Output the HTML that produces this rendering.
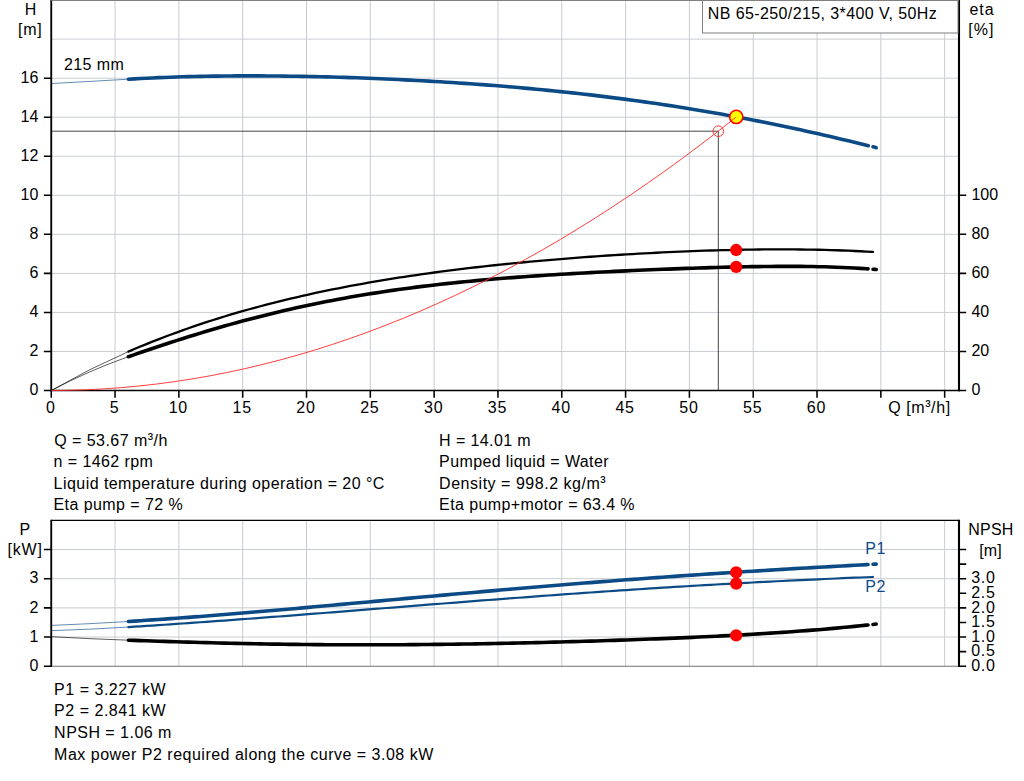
<!DOCTYPE html>
<html><head><meta charset="utf-8"><title>Pump curve</title>
<style>html,body{margin:0;padding:0;background:#fff;overflow:hidden}svg{display:block}text{font-family:"Liberation Sans",sans-serif}</style></head>
<body>
<svg width="1024" height="781" viewBox="0 0 1024 781">
<rect width="1024" height="781" fill="#fff"/>
<path d="M115.06,0V390.50M178.88,0V390.50M242.69,0V390.50M306.51,0V390.50M370.32,0V390.50M434.14,0V390.50M497.95,0V390.50M561.77,0V390.50M625.59,0V390.50M689.40,0V390.50M753.22,0V390.50M817.03,0V390.50M880.85,0V390.50M944.66,0V390.50M51.25,351.46H959.00M51.25,312.42H959.00M51.25,273.38H959.00M51.25,234.34H959.00M51.25,195.30H959.00M51.25,156.26H959.00M51.25,117.22H959.00M51.25,78.18H959.00M51.25,39.14H959.00" stroke="#c9cdd1" stroke-width="1" fill="none"/>
<path d="M115.06,520.4V666.2M178.88,520.4V666.2M242.69,520.4V666.2M306.51,520.4V666.2M370.32,520.4V666.2M434.14,520.4V666.2M497.95,520.4V666.2M561.77,520.4V666.2M625.59,520.4V666.2M689.40,520.4V666.2M753.22,520.4V666.2M817.03,520.4V666.2M880.85,520.4V666.2M944.66,520.4V666.2M51.25,637.03H959.00M51.25,607.86H959.00M51.25,578.69H959.00M51.25,549.52H959.00" stroke="#c9cdd1" stroke-width="1" fill="none"/>
<path d="M51.25,131.2H718.3V390.5" stroke="#454545" stroke-width="1" fill="none"/>
<path d="M51.80,83.50Q90.10,81.49 128.40,79.19" stroke="#0b4a85" stroke-width="0.8" fill="none" opacity="0.8"/>
<path d="M128.40,79.19 L134.40,78.84 L140.40,78.51 L146.40,78.21 L152.40,77.93 L158.40,77.67 L164.40,77.43 L170.40,77.20 L176.40,77.00 L182.40,76.82 L188.40,76.65 L194.40,76.51 L200.40,76.38 L206.40,76.26 L212.40,76.16 L218.40,76.08 L224.40,76.01 L230.40,75.96 L236.40,75.92 L242.40,75.90 L248.40,75.89 L254.40,75.89 L260.40,75.91 L266.40,75.94 L272.40,75.98 L278.40,76.04 L284.40,76.11 L290.40,76.19 L296.40,76.28 L302.40,76.38 L308.40,76.50 L314.40,76.62 L320.40,76.76 L326.40,76.91 L332.40,77.07 L338.40,77.24 L344.40,77.42 L350.40,77.61 L356.40,77.82 L362.40,78.03 L368.40,78.26 L374.40,78.49 L380.40,78.74 L386.40,79.00 L392.40,79.27 L398.40,79.55 L404.40,79.84 L410.40,80.14 L416.40,80.45 L422.40,80.78 L428.40,81.11 L434.40,81.46 L440.40,81.82 L446.40,82.19 L452.40,82.57 L458.40,82.96 L464.40,83.37 L470.40,83.79 L476.40,84.22 L482.40,84.66 L488.40,85.11 L494.40,85.58 L500.40,86.06 L506.40,86.55 L512.40,87.06 L518.40,87.58 L524.40,88.11 L530.40,88.66 L536.40,89.22 L542.40,89.79 L548.40,90.38 L554.40,90.99 L560.40,91.60 L566.40,92.23 L572.40,92.88 L578.40,93.54 L584.40,94.22 L590.40,94.91 L596.40,95.62 L602.40,96.35 L608.40,97.09 L614.40,97.84 L620.40,98.61 L626.40,99.40 L632.40,100.21 L638.40,101.03 L644.40,101.87 L650.40,102.72 L656.40,103.59 L662.40,104.48 L668.40,105.39 L674.40,106.31 L680.40,107.26 L686.40,108.22 L692.40,109.19 L698.40,110.19 L704.40,111.20 L710.40,112.23 L716.40,113.28 L722.40,114.34 L728.40,115.43 L734.40,116.53 L740.40,117.65 L746.40,118.79 L752.40,119.95 L758.40,121.12 L764.40,122.31 L770.40,123.52 L776.40,124.75 L782.40,126.00 L788.40,127.26 L794.40,128.54 L800.40,129.84 L806.40,131.16 L812.40,132.49 L818.40,133.84 L824.40,135.21 L830.40,136.59 L836.40,137.99 L842.40,139.41 L848.40,140.84 L854.40,142.29 L860.40,143.75 L866.40,145.23 L868.30,145.70" stroke="#0b4a85" stroke-width="3.6" fill="none" stroke-linecap="round"/>
<path d="M873.00,146.87 L875.00,147.37 L876.20,147.68" stroke="#0b4a85" stroke-width="3.6" fill="none" stroke-linecap="round"/>
<path d="M51.30,390.50Q89.85,368.24 128.40,351.61" stroke="#000" stroke-width="0.8" fill="none" opacity="0.8"/>
<path d="M128.40,351.61 L134.40,349.05 L140.40,346.54 L146.40,344.08 L152.40,341.68 L158.40,339.32 L164.40,337.02 L170.40,334.76 L176.40,332.55 L182.40,330.39 L188.40,328.28 L194.40,326.21 L200.40,324.18 L206.40,322.20 L212.40,320.27 L218.40,318.37 L224.40,316.52 L230.40,314.71 L236.40,312.94 L242.40,311.20 L248.40,309.51 L254.40,307.86 L260.40,306.24 L266.40,304.66 L272.40,303.11 L278.40,301.60 L284.40,300.12 L290.40,298.68 L296.40,297.27 L302.40,295.90 L308.40,294.55 L314.40,293.24 L320.40,291.95 L326.40,290.70 L332.40,289.47 L338.40,288.27 L344.40,287.10 L350.40,285.96 L356.40,284.85 L362.40,283.76 L368.40,282.69 L374.40,281.65 L380.40,280.64 L386.40,279.65 L392.40,278.68 L398.40,277.73 L404.40,276.81 L410.40,275.90 L416.40,275.02 L422.40,274.16 L428.40,273.32 L434.40,272.50 L440.40,271.69 L446.40,270.91 L452.40,270.14 L458.40,269.40 L464.40,268.67 L470.40,267.95 L476.40,267.26 L482.40,266.58 L488.40,265.91 L494.40,265.26 L500.40,264.63 L506.40,264.01 L512.40,263.40 L518.40,262.81 L524.40,262.24 L530.40,261.67 L536.40,261.12 L542.40,260.59 L548.40,260.06 L554.40,259.55 L560.40,259.06 L566.40,258.57 L572.40,258.10 L578.40,257.64 L584.40,257.19 L590.40,256.75 L596.40,256.33 L602.40,255.92 L608.40,255.51 L614.40,255.13 L620.40,254.75 L626.40,254.38 L632.40,254.03 L638.40,253.68 L644.40,253.35 L650.40,253.03 L656.40,252.73 L662.40,252.43 L668.40,252.15 L674.40,251.88 L680.40,251.62 L686.40,251.37 L692.40,251.14 L698.40,250.92 L704.40,250.71 L710.40,250.52 L716.40,250.34 L722.40,250.18 L728.40,250.03 L734.40,249.89 L740.40,249.77 L746.40,249.66 L752.40,249.57 L758.40,249.50 L764.40,249.44 L770.40,249.40 L776.40,249.38 L782.40,249.38 L788.40,249.39 L794.40,249.43 L800.40,249.48 L806.40,249.56 L812.40,249.65 L818.40,249.77 L824.40,249.91 L830.40,250.08 L836.40,250.26 L842.40,250.48 L848.40,250.71 L854.40,250.98 L860.40,251.27 L866.40,251.58 L872.40,251.93 L873.00,251.97" stroke="#000" stroke-width="2.3" fill="none" stroke-linecap="round"/>
<path d="M51.30,390.50Q89.85,370.07 128.40,356.69" stroke="#000" stroke-width="0.8" fill="none" opacity="0.8"/>
<path d="M128.40,356.69 L134.40,354.61 L140.40,352.56 L146.40,350.51 L152.40,348.49 L158.40,346.49 L164.40,344.51 L170.40,342.55 L176.40,340.62 L182.40,338.71 L188.40,336.82 L194.40,334.96 L200.40,333.13 L206.40,331.32 L212.40,329.55 L218.40,327.80 L224.40,326.08 L230.40,324.39 L236.40,322.73 L242.40,321.10 L248.40,319.50 L254.40,317.93 L260.40,316.39 L266.40,314.89 L272.40,313.42 L278.40,311.97 L284.40,310.56 L290.40,309.18 L296.40,307.84 L302.40,306.52 L308.40,305.24 L314.40,303.98 L320.40,302.76 L326.40,301.57 L332.40,300.41 L338.40,299.28 L344.40,298.18 L350.40,297.10 L356.40,296.06 L362.40,295.05 L368.40,294.06 L374.40,293.11 L380.40,292.18 L386.40,291.28 L392.40,290.40 L398.40,289.55 L404.40,288.73 L410.40,287.93 L416.40,287.15 L422.40,286.40 L428.40,285.68 L434.40,284.97 L440.40,284.29 L446.40,283.63 L452.40,282.99 L458.40,282.36 L464.40,281.76 L470.40,281.18 L476.40,280.62 L482.40,280.07 L488.40,279.54 L494.40,279.03 L500.40,278.54 L506.40,278.05 L512.40,277.59 L518.40,277.14 L524.40,276.70 L530.40,276.27 L536.40,275.86 L542.40,275.46 L548.40,275.07 L554.40,274.69 L560.40,274.32 L566.40,273.96 L572.40,273.61 L578.40,273.27 L584.40,272.94 L590.40,272.62 L596.40,272.31 L602.40,272.00 L608.40,271.70 L614.40,271.41 L620.40,271.12 L626.40,270.84 L632.40,270.57 L638.40,270.31 L644.40,270.05 L650.40,269.80 L656.40,269.55 L662.40,269.31 L668.40,269.08 L674.40,268.85 L680.40,268.63 L686.40,268.42 L692.40,268.22 L698.40,268.02 L704.40,267.83 L710.40,267.65 L716.40,267.48 L722.40,267.32 L728.40,267.16 L734.40,267.02 L740.40,266.89 L746.40,266.78 L752.40,266.67 L758.40,266.58 L764.40,266.50 L770.40,266.44 L776.40,266.40 L782.40,266.38 L788.40,266.37 L794.40,266.39 L800.40,266.42 L806.40,266.48 L812.40,266.57 L818.40,266.68 L824.40,266.82 L830.40,266.99 L836.40,267.19 L842.40,267.43 L848.40,267.70 L854.40,268.01 L860.40,268.36 L866.40,268.75 L868.00,268.86" stroke="#000" stroke-width="3.6" fill="none" stroke-linecap="round"/>
<path d="M873.00,269.23 L875.00,269.39 L876.20,269.49" stroke="#000" stroke-width="3.6" fill="none" stroke-linecap="round"/>
<path d="M51.80,625.40Q90.10,623.86 128.40,621.48" stroke="#0b4a85" stroke-width="0.8" fill="none" opacity="0.8"/>
<path d="M128.40,621.48 L134.40,621.10 L140.40,620.72 L146.40,620.32 L152.40,619.92 L158.40,619.51 L164.40,619.09 L170.40,618.67 L176.40,618.23 L182.40,617.79 L188.40,617.35 L194.40,616.89 L200.40,616.43 L206.40,615.97 L212.40,615.50 L218.40,615.02 L224.40,614.54 L230.40,614.05 L236.40,613.56 L242.40,613.07 L248.40,612.56 L254.40,612.06 L260.40,611.55 L266.40,611.04 L272.40,610.52 L278.40,610.00 L284.40,609.48 L290.40,608.95 L296.40,608.42 L302.40,607.89 L308.40,607.36 L314.40,606.82 L320.40,606.29 L326.40,605.75 L332.40,605.20 L338.40,604.66 L344.40,604.12 L350.40,603.57 L356.40,603.03 L362.40,602.48 L368.40,601.93 L374.40,601.39 L380.40,600.84 L386.40,600.29 L392.40,599.74 L398.40,599.20 L404.40,598.65 L410.40,598.10 L416.40,597.56 L422.40,597.01 L428.40,596.47 L434.40,595.92 L440.40,595.38 L446.40,594.84 L452.40,594.30 L458.40,593.77 L464.40,593.23 L470.40,592.70 L476.40,592.17 L482.40,591.64 L488.40,591.11 L494.40,590.59 L500.40,590.06 L506.40,589.54 L512.40,589.03 L518.40,588.51 L524.40,588.00 L530.40,587.49 L536.40,586.99 L542.40,586.49 L548.40,585.99 L554.40,585.49 L560.40,585.00 L566.40,584.51 L572.40,584.02 L578.40,583.54 L584.40,583.06 L590.40,582.59 L596.40,582.12 L602.40,581.65 L608.40,581.19 L614.40,580.72 L620.40,580.27 L626.40,579.82 L632.40,579.37 L638.40,578.92 L644.40,578.48 L650.40,578.04 L656.40,577.61 L662.40,577.18 L668.40,576.76 L674.40,576.33 L680.40,575.92 L686.40,575.50 L692.40,575.09 L698.40,574.69 L704.40,574.28 L710.40,573.89 L716.40,573.49 L722.40,573.10 L728.40,572.71 L734.40,572.33 L740.40,571.95 L746.40,571.57 L752.40,571.20 L758.40,570.83 L764.40,570.46 L770.40,570.10 L776.40,569.74 L782.40,569.38 L788.40,569.02 L794.40,568.67 L800.40,568.32 L806.40,567.98 L812.40,567.63 L818.40,567.29 L824.40,566.95 L830.40,566.61 L836.40,566.28 L842.40,565.94 L848.40,565.61 L854.40,565.28 L860.40,564.95 L866.40,564.63 L868.00,564.54" stroke="#0b4a85" stroke-width="3.6" fill="none" stroke-linecap="round"/>
<path d="M873.00,564.27 L875.00,564.16 L876.20,564.09" stroke="#0b4a85" stroke-width="3.6" fill="none" stroke-linecap="round"/>
<path d="M51.80,630.60Q90.10,629.48 128.40,627.08" stroke="#0b4a85" stroke-width="0.8" fill="none" opacity="0.8"/>
<path d="M128.40,627.08 L134.40,626.70 L140.40,626.31 L146.40,625.93 L152.40,625.53 L158.40,625.14 L164.40,624.74 L170.40,624.33 L176.40,623.92 L182.40,623.51 L188.40,623.10 L194.40,622.68 L200.40,622.25 L206.40,621.83 L212.40,621.40 L218.40,620.97 L224.40,620.53 L230.40,620.09 L236.40,619.65 L242.40,619.21 L248.40,618.76 L254.40,618.31 L260.40,617.86 L266.40,617.41 L272.40,616.95 L278.40,616.49 L284.40,616.03 L290.40,615.57 L296.40,615.11 L302.40,614.64 L308.40,614.17 L314.40,613.71 L320.40,613.24 L326.40,612.77 L332.40,612.29 L338.40,611.82 L344.40,611.35 L350.40,610.87 L356.40,610.40 L362.40,609.92 L368.40,609.45 L374.40,608.97 L380.40,608.49 L386.40,608.02 L392.40,607.54 L398.40,607.07 L404.40,606.59 L410.40,606.11 L416.40,605.64 L422.40,605.16 L428.40,604.69 L434.40,604.22 L440.40,603.74 L446.40,603.27 L452.40,602.80 L458.40,602.33 L464.40,601.86 L470.40,601.40 L476.40,600.93 L482.40,600.47 L488.40,600.01 L494.40,599.55 L500.40,599.09 L506.40,598.63 L512.40,598.18 L518.40,597.73 L524.40,597.28 L530.40,596.83 L536.40,596.38 L542.40,595.94 L548.40,595.50 L554.40,595.06 L560.40,594.63 L566.40,594.19 L572.40,593.76 L578.40,593.34 L584.40,592.91 L590.40,592.49 L596.40,592.08 L602.40,591.66 L608.40,591.25 L614.40,590.84 L620.40,590.44 L626.40,590.04 L632.40,589.64 L638.40,589.25 L644.40,588.86 L650.40,588.47 L656.40,588.09 L662.40,587.71 L668.40,587.34 L674.40,586.96 L680.40,586.60 L686.40,586.23 L692.40,585.88 L698.40,585.52 L704.40,585.17 L710.40,584.82 L716.40,584.48 L722.40,584.14 L728.40,583.80 L734.40,583.47 L740.40,583.15 L746.40,582.82 L752.40,582.51 L758.40,582.19 L764.40,581.88 L770.40,581.58 L776.40,581.27 L782.40,580.98 L788.40,580.68 L794.40,580.39 L800.40,580.11 L806.40,579.83 L812.40,579.55 L818.40,579.28 L824.40,579.01 L830.40,578.74 L836.40,578.48 L842.40,578.22 L848.40,577.97 L854.40,577.72 L860.40,577.48 L866.40,577.23 L872.40,577.00 L873.00,576.97" stroke="#0b4a85" stroke-width="2.2" fill="none" stroke-linecap="round"/>
<path d="M51.80,636.70Q90.10,638.88 128.40,640.20" stroke="#000" stroke-width="0.8" fill="none" opacity="0.8"/>
<path d="M128.40,640.20 L134.40,640.40 L140.40,640.61 L146.40,640.81 L152.40,641.01 L158.40,641.21 L164.40,641.40 L170.40,641.59 L176.40,641.78 L182.40,641.96 L188.40,642.14 L194.40,642.31 L200.40,642.48 L206.40,642.64 L212.40,642.80 L218.40,642.95 L224.40,643.10 L230.40,643.24 L236.40,643.38 L242.40,643.51 L248.40,643.64 L254.40,643.76 L260.40,643.87 L266.40,643.98 L272.40,644.08 L278.40,644.17 L284.40,644.26 L290.40,644.34 L296.40,644.41 L302.40,644.48 L308.40,644.55 L314.40,644.60 L320.40,644.65 L326.40,644.69 L332.40,644.73 L338.40,644.76 L344.40,644.78 L350.40,644.80 L356.40,644.81 L362.40,644.82 L368.40,644.82 L374.40,644.81 L380.40,644.80 L386.40,644.78 L392.40,644.75 L398.40,644.72 L404.40,644.69 L410.40,644.64 L416.40,644.60 L422.40,644.54 L428.40,644.48 L434.40,644.42 L440.40,644.35 L446.40,644.28 L452.40,644.20 L458.40,644.11 L464.40,644.02 L470.40,643.93 L476.40,643.83 L482.40,643.73 L488.40,643.62 L494.40,643.51 L500.40,643.39 L506.40,643.27 L512.40,643.14 L518.40,643.01 L524.40,642.87 L530.40,642.73 L536.40,642.59 L542.40,642.44 L548.40,642.29 L554.40,642.14 L560.40,641.98 L566.40,641.81 L572.40,641.64 L578.40,641.47 L584.40,641.30 L590.40,641.11 L596.40,640.93 L602.40,640.74 L608.40,640.55 L614.40,640.35 L620.40,640.15 L626.40,639.94 L632.40,639.73 L638.40,639.51 L644.40,639.29 L650.40,639.06 L656.40,638.83 L662.40,638.60 L668.40,638.35 L674.40,638.11 L680.40,637.85 L686.40,637.59 L692.40,637.33 L698.40,637.05 L704.40,636.77 L710.40,636.49 L716.40,636.19 L722.40,635.89 L728.40,635.58 L734.40,635.26 L740.40,634.93 L746.40,634.59 L752.40,634.25 L758.40,633.89 L764.40,633.52 L770.40,633.15 L776.40,632.76 L782.40,632.36 L788.40,631.94 L794.40,631.51 L800.40,631.07 L806.40,630.62 L812.40,630.15 L818.40,629.67 L824.40,629.17 L830.40,628.65 L836.40,628.11 L842.40,627.56 L848.40,626.99 L854.40,626.40 L860.40,625.79 L866.40,625.15 L868.00,624.98" stroke="#000" stroke-width="3.6" fill="none" stroke-linecap="round"/>
<path d="M873.00,624.43 L875.00,624.21 L876.20,624.07" stroke="#000" stroke-width="3.6" fill="none" stroke-linecap="round"/>
<path d="M51.25,0V391.30M51.25,519.8V667.10" stroke="#000" stroke-width="1.85" fill="none"/>
<path d="M959.00,0V391.30M959.00,519.8V667.10" stroke="#000" stroke-width="2.1" fill="none"/>
<path d="M43.85,390.50H51.25M43.85,351.46H51.25M43.85,312.42H51.25M43.85,273.38H51.25M43.85,234.34H51.25M43.85,195.30H51.25M43.85,156.26H51.25M43.85,117.22H51.25M43.85,78.18H51.25M51.25,390.5v7.3M115.06,390.5v7.3M178.88,390.5v7.3M242.69,390.5v7.3M306.51,390.5v7.3M370.32,390.5v7.3M434.14,390.5v7.3M497.95,390.5v7.3M561.77,390.5v7.3M625.59,390.5v7.3M689.40,390.5v7.3M753.22,390.5v7.3M817.03,390.5v7.3M880.85,390.5v7.3M944.66,390.5v7.3M959.00,390.50h7.2M959.00,351.46h7.2M959.00,312.42h7.2M959.00,273.38h7.2M959.00,234.34h7.2M959.00,195.30h7.2M43.85,666.20H51.25M43.85,637.03H51.25M43.85,607.86H51.25M43.85,578.69H51.25M43.85,549.52H51.25M959.00,666.20h7.2M959.00,651.62h7.2M959.00,637.03h7.2M959.00,622.45h7.2M959.00,607.86h7.2M959.00,593.28h7.2M959.00,578.69h7.2M959.00,564.11h7.2M959.00,549.52h7.2" stroke="#000" stroke-width="1.55" fill="none"/>
<path d="M50.25,390.5H960.00" stroke="#000" stroke-width="1.5" fill="none"/>
<path d="M51.25,520.4H959.00" stroke="#000" stroke-width="1.4" fill="none"/>
<path d="M52.15,666.3000000000001H958.00" stroke="#707070" stroke-width="1.1" fill="none"/>
<circle cx="718.3" cy="131.2" r="5.3" stroke="#ff3838" stroke-width="1" fill="none"/>
<circle cx="736.25" cy="116.9" r="6.6" stroke="#f00" stroke-width="1.6" fill="#ff0"/>
<circle cx="736.2" cy="250" r="6.15" fill="#f00"/>
<circle cx="736.2" cy="266.8" r="6.15" fill="#f00"/>
<circle cx="736.2" cy="572.3" r="6.15" fill="#f00"/>
<circle cx="736.2" cy="583.6" r="6.15" fill="#f00"/>
<circle cx="736.2" cy="635.3" r="6.15" fill="#f00"/>
<path d="M51.25,390.50 L68.81,390.32 L86.38,389.78 L103.94,388.88 L121.51,387.62 L139.07,386.01 L156.63,384.03 L174.20,381.69 L191.76,378.99 L209.32,375.94 L226.89,372.52 L244.45,368.74 L262.02,364.61 L279.58,360.11 L297.14,355.26 L314.71,350.05 L332.27,344.47 L349.84,338.54 L367.40,332.24 L384.96,325.59 L402.53,318.58 L420.09,311.21 L437.65,303.48 L455.22,295.39 L472.78,286.94 L490.35,278.13 L507.91,268.96 L525.47,259.43 L543.04,249.54 L560.60,239.29 L578.17,228.68 L595.73,217.71 L613.29,206.39 L630.86,194.70 L648.42,182.65 L665.98,170.25 L683.55,157.48 L701.11,144.35 L718.68,130.87 L736.24,117.02" stroke="#ff2828" stroke-width="0.9" fill="none"/>
<rect x="702.5" y="-5" width="255.50" height="38" fill="#fff" stroke="#7f7f7f" stroke-width="1"/>
<path d="M51.25,0.5H959.0" stroke="#808080" stroke-width="1" fill="none"/>
<g font-family="'Liberation Sans', sans-serif">
<text x="707.8" y="18.8" text-anchor="start" fill="#000" font-size="16" textLength="229" lengthAdjust="spacing">NB 65-250/215, 3*400 V, 50Hz</text>
<text x="30.5" y="14.8" text-anchor="middle" fill="#000" font-size="16">H</text>
<text x="17.9" y="35.2" text-anchor="start" fill="#000" font-size="16" textLength="23.8" lengthAdjust="spacing">[m]</text>
<text x="969.5" y="14.8" text-anchor="start" fill="#000" font-size="16" textLength="24.2" lengthAdjust="spacing">eta</text>
<text x="968.2" y="34.8" text-anchor="start" fill="#000" font-size="16" textLength="25.3" lengthAdjust="spacing">[%]</text>
<text x="38.3" y="395.3" text-anchor="end" fill="#000" font-size="16">0</text>
<text x="38.3" y="356.26" text-anchor="end" fill="#000" font-size="16">2</text>
<text x="38.3" y="317.22" text-anchor="end" fill="#000" font-size="16">4</text>
<text x="38.3" y="278.18" text-anchor="end" fill="#000" font-size="16">6</text>
<text x="38.3" y="239.14000000000001" text-anchor="end" fill="#000" font-size="16">8</text>
<text x="38.3" y="200.10000000000002" text-anchor="end" fill="#000" font-size="16">10</text>
<text x="38.3" y="161.06" text-anchor="end" fill="#000" font-size="16">12</text>
<text x="38.3" y="122.02000000000002" text-anchor="end" fill="#000" font-size="16">14</text>
<text x="38.3" y="82.98" text-anchor="end" fill="#000" font-size="16">16</text>
<text x="50.35" y="413.0" text-anchor="middle" fill="#000" font-size="16">0</text>
<text x="114.16499999999999" y="413.0" text-anchor="middle" fill="#000" font-size="16">5</text>
<text x="177.98" y="413.0" text-anchor="middle" fill="#000" font-size="16" textLength="18.6" lengthAdjust="spacing">10</text>
<text x="241.795" y="413.0" text-anchor="middle" fill="#000" font-size="16" textLength="18.6" lengthAdjust="spacing">15</text>
<text x="305.61" y="413.0" text-anchor="middle" fill="#000" font-size="16" textLength="18.6" lengthAdjust="spacing">20</text>
<text x="369.425" y="413.0" text-anchor="middle" fill="#000" font-size="16" textLength="18.6" lengthAdjust="spacing">25</text>
<text x="433.24" y="413.0" text-anchor="middle" fill="#000" font-size="16" textLength="18.6" lengthAdjust="spacing">30</text>
<text x="497.055" y="413.0" text-anchor="middle" fill="#000" font-size="16" textLength="18.6" lengthAdjust="spacing">35</text>
<text x="560.87" y="413.0" text-anchor="middle" fill="#000" font-size="16" textLength="18.6" lengthAdjust="spacing">40</text>
<text x="624.6850000000001" y="413.0" text-anchor="middle" fill="#000" font-size="16" textLength="18.6" lengthAdjust="spacing">45</text>
<text x="688.5" y="413.0" text-anchor="middle" fill="#000" font-size="16" textLength="18.6" lengthAdjust="spacing">50</text>
<text x="752.315" y="413.0" text-anchor="middle" fill="#000" font-size="16" textLength="18.6" lengthAdjust="spacing">55</text>
<text x="816.13" y="413.0" text-anchor="middle" fill="#000" font-size="16" textLength="18.6" lengthAdjust="spacing">60</text>
<rect x="886" y="398.5" width="70" height="20" fill="#fff"/>
<text x="888.2" y="413.0" text-anchor="start" fill="#000" font-size="16" textLength="61.9" lengthAdjust="spacing">Q [m<tspan dy="-2">³</tspan><tspan dy="2">/h]</tspan></text>
<text x="971.4" y="395.3" text-anchor="start" fill="#000" font-size="16">0</text>
<text x="971.4" y="356.26" text-anchor="start" fill="#000" font-size="16">20</text>
<text x="971.4" y="317.22" text-anchor="start" fill="#000" font-size="16">40</text>
<text x="971.4" y="278.18" text-anchor="start" fill="#000" font-size="16">60</text>
<text x="971.4" y="239.14000000000001" text-anchor="start" fill="#000" font-size="16">80</text>
<text x="971.4" y="200.10000000000002" text-anchor="start" fill="#000" font-size="16">100</text>
<text x="54.3" y="445.7" text-anchor="start" fill="#000" font-size="16" textLength="113" lengthAdjust="spacing">Q = 53.67 m<tspan dy="-2">³</tspan><tspan dy="2">/h</tspan></text>
<text x="53.6" y="467.0" text-anchor="start" fill="#000" font-size="16" textLength="99.3" lengthAdjust="spacing">n = 1462 rpm</text>
<text x="53.6" y="488.5" text-anchor="start" fill="#000" font-size="16" textLength="330.7" lengthAdjust="spacing">Liquid temperature during operation = 20 °C</text>
<text x="53.5" y="509.9" text-anchor="start" fill="#000" font-size="16" textLength="129.2" lengthAdjust="spacing">Eta pump = 72 %</text>
<text x="439.1" y="445.7" text-anchor="start" fill="#000" font-size="16" textLength="91.6" lengthAdjust="spacing">H = 14.01 m</text>
<text x="439.1" y="467.0" text-anchor="start" fill="#000" font-size="16" textLength="169.4" lengthAdjust="spacing">Pumped liquid = Water</text>
<text x="439.1" y="488.5" text-anchor="start" fill="#000" font-size="16" textLength="166.6" lengthAdjust="spacing">Density = 998.2 kg/m<tspan dy="-2">³</tspan></text>
<text x="439.1" y="509.9" text-anchor="start" fill="#000" font-size="16" textLength="195.4" lengthAdjust="spacing">Eta pump+motor = 63.4 %</text>
<text x="64" y="69.9" text-anchor="start" fill="#000" font-size="16" textLength="59.8" lengthAdjust="spacing">215 mm</text>
<text x="24.8" y="535" text-anchor="middle" fill="#000" font-size="16">P</text>
<text x="7.5" y="555.3" text-anchor="start" fill="#000" font-size="16" textLength="34.5" lengthAdjust="spacing">[kW]</text>
<text x="38.3" y="671.0" text-anchor="end" fill="#000" font-size="16">0</text>
<text x="38.3" y="641.83" text-anchor="end" fill="#000" font-size="16">1</text>
<text x="38.3" y="612.66" text-anchor="end" fill="#000" font-size="16">2</text>
<text x="38.3" y="583.49" text-anchor="end" fill="#000" font-size="16">3</text>
<text x="968.3" y="535" text-anchor="start" fill="#000" font-size="16" textLength="45" lengthAdjust="spacing">NPSH</text>
<text x="979.2" y="555.5" text-anchor="start" fill="#000" font-size="16" textLength="22.4" lengthAdjust="spacing">[m]</text>
<text x="971.3" y="671.0" text-anchor="start" fill="#000" font-size="16" textLength="23.6" lengthAdjust="spacing">0.0</text>
<text x="971.3" y="656.415" text-anchor="start" fill="#000" font-size="16" textLength="23.6" lengthAdjust="spacing">0.5</text>
<text x="971.3" y="641.83" text-anchor="start" fill="#000" font-size="16" textLength="23.6" lengthAdjust="spacing">1.0</text>
<text x="971.3" y="627.245" text-anchor="start" fill="#000" font-size="16" textLength="23.6" lengthAdjust="spacing">1.5</text>
<text x="971.3" y="612.66" text-anchor="start" fill="#000" font-size="16" textLength="23.6" lengthAdjust="spacing">2.0</text>
<text x="971.3" y="598.075" text-anchor="start" fill="#000" font-size="16" textLength="23.6" lengthAdjust="spacing">2.5</text>
<text x="971.3" y="583.49" text-anchor="start" fill="#000" font-size="16" textLength="23.6" lengthAdjust="spacing">3.0</text>
<text x="865.3" y="553.7" text-anchor="start" fill="#0f4c8a" font-size="16" textLength="20.0" lengthAdjust="spacing">P1</text>
<text x="865.3" y="592" text-anchor="start" fill="#0f4c8a" font-size="16" textLength="20.0" lengthAdjust="spacing">P2</text>
<text x="54.1" y="695.1" text-anchor="start" fill="#000" font-size="16" textLength="111.6" lengthAdjust="spacing">P1 = 3.227 kW</text>
<text x="54.1" y="716.3" text-anchor="start" fill="#000" font-size="16" textLength="111.6" lengthAdjust="spacing">P2 = 2.841 kW</text>
<text x="54.1" y="738.0" text-anchor="start" fill="#000" font-size="16" textLength="117.3" lengthAdjust="spacing">NPSH = 1.06 m</text>
<text x="54.1" y="759.6" text-anchor="start" fill="#000" font-size="16" textLength="379.2" lengthAdjust="spacing">Max power P2 required along the curve = 3.08 kW</text>
</g>
</svg>
</body></html>
